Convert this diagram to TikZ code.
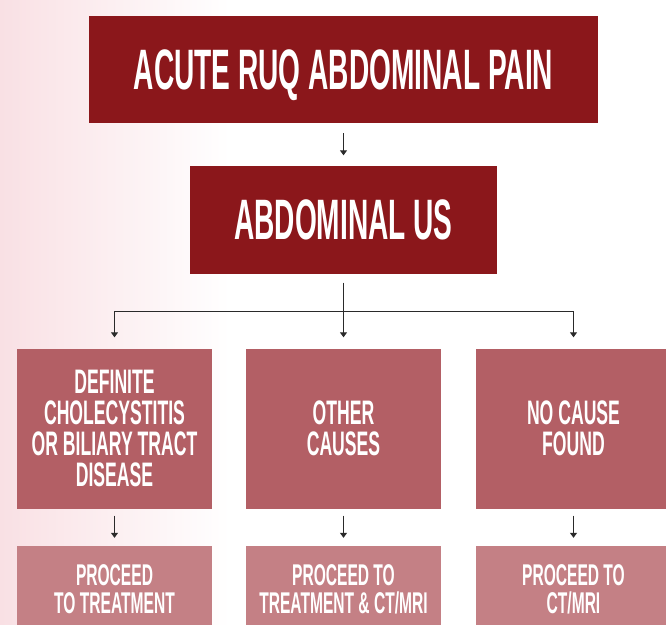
\documentclass[tikz,border=0pt]{standalone}
\usepackage{fontspec}
\newfontfamily\topfont{Liberation Sans}[UprightFont=*-Bold, FakeStretch=0.493]
\newfontfamily\midfont{Liberation Sans}[UprightFont=*-Bold, FakeStretch=0.518]
\newfontfamily\lowfont{Liberation Sans}[UprightFont=*-Bold, FakeStretch=0.519]
\usetikzlibrary{arrows.meta}
\definecolor{topred}{HTML}{8B171B}
\definecolor{midred}{HTML}{B35F65}
\definecolor{lowred}{HTML}{C48085}
\definecolor{bgpink}{HTML}{F9E0E4}
\definecolor{arrowgray}{HTML}{2A2A2A}
\tikzset{
  topbox/.style={fill=topred, text=white, inner sep=0pt, align=center,
    text depth=0pt, font=\topfont\fontsize{57}{58}\selectfont},
  midbox/.style={fill=midred, text=white, inner sep=0pt, align=center,
    minimum width=195pt, minimum height=160pt,
    font=\midfont\fontsize{34}{31}\selectfont},
  lowbox/.style={fill=lowred, text=white, inner sep=0pt, align=center,
    minimum width=195pt, minimum height=86pt,
    font=\lowfont\fontsize{30}{28}\selectfont},
  conn/.style={draw=arrowgray, line width=1pt},
  arr/.style={conn, -{Triangle[length=5pt,width=7pt]}}
}
\begin{document}
\begin{tikzpicture}[x=1pt,y=-1pt]
\useasboundingbox (0,0) rectangle (666,624);
\fill[white] (0,0) rectangle (666,624);
\shade[left color=bgpink, right color=white] (0,0) rectangle (230,624);

\node[topbox, minimum width=509pt, minimum height=107pt] (pain) at (343.5,69.5) {ACUTE RUQ ABDOMINAL PAIN};
\node[topbox, minimum width=307pt, minimum height=108pt] (us) at (343.5,219.5) {ABDOMINAL US};

\node[midbox] (m1) at (114.5,428.5) {DEFINITE\\CHOLECYSTITIS\\OR BILIARY TRACT\\DISEASE};
\node[midbox] (m2) at (343.5,428.5) {OTHER\\CAUSES};
\node[midbox] (m3) at (573.5,428.5) {NO CAUSE\\FOUND};

\node[lowbox] (b1) at (114.5,589) {PROCEED\\TO TREATMENT};
\node[lowbox] (b2) at (343.5,589) {PROCEED TO\\TREATMENT \& CT/MRI};
\node[lowbox] (b3) at (573.5,589) {PROCEED TO\\CT/MRI};

\draw[arr, shorten <=10pt, shorten >=10pt] (pain) -- (us);

\coordinate (split) at (343.5,311);
\draw[conn] ([yshift=-9pt]us.south) -- (split);
\draw[arr] (split) -| ([yshift=11pt]m1.north);
\draw[arr] (split) -- ([yshift=11pt]m2.north);
\draw[arr] (split) -| ([yshift=11pt]m3.north);

\draw[arr, shorten <=7pt, shorten >=8pt] (m1) -- (b1);
\draw[arr, shorten <=7pt, shorten >=8pt] (m2) -- (b2);
\draw[arr, shorten <=7pt, shorten >=8pt] (m3) -- (b3);
\end{tikzpicture}
\end{document}
